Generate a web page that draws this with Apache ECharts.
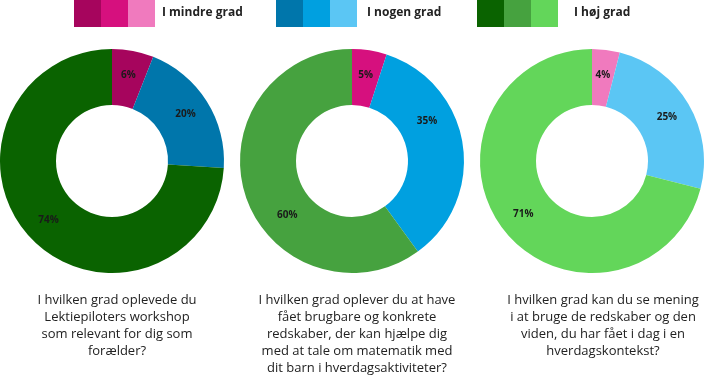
<!DOCTYPE html>
<html>
<head>
<meta charset="utf-8">
<script src="https://cdn.jsdelivr.net/npm/echarts@6/dist/echarts.min.js"></script>
<style>
  html, body { margin: 0; padding: 0; background: #fff; }
  #main { width: 705px; height: 375px; }
</style>
</head>
<body>
<div id="main"></div>
<script>
// svargrupper (legende)
var groups = ['I mindre grad', 'I nogen grad', 'I høj grad'];
var pinks = ['#a6055d', '#d6107e', '#f07abe'];
var blues = ['#0076ab', '#00a0e0', '#5bc6f4'];
var greens = ['#0a6300', '#46a23f', '#63d65a'];

// data pr. spørgsmål: [mindre, nogen, høj]
var values1 = [6, 20, 74];
var values2 = [5, 35, 60];
var values3 = [4, 25, 71];

var questions = [
    'I hvilken grad oplevede du\nLektiepiloters workshop\nsom relevant for dig som\nforælder?',
    'I hvilken grad oplever du at have\nfået brugbare og konkrete\nredskaber, der kan hjælpe dig\nmed at tale om matematik med\ndit barn i hverdagsaktiviteter?',
    'I hvilken grad kan du se mening\ni at bruge de redskaber og den\nviden, du har fået i dag i en\nhverdagskontekst?'
];

var myChart = echarts.init(document.getElementById('main'));

var allValues = [values1, values2, values3];
var centersX = [112, 352, 592];
var textX = [112, 352, 598];
var palette = [pinks, blues, greens];
// etiketterne i midterste diagram er flyttet lidt i originalen
var labelShift = [null, [null, [-11, -26], [18, 27]], null];

var series = [];
var titles = [];
allValues.forEach(function (vals, i) {
    series.push({
        type: 'pie',
        radius: [56, 112],
        center: [centersX[i], 161],
        startAngle: 90,
        clockwise: true,
        silent: true,
        label: {
            show: true,
            position: 'inside',
            formatter: '{c}%',
            color: '#1a1a1a',
            fontSize: 10,
            fontWeight: 'bold',
            fontFamily: 'Open Sans'
        },
        labelLine: {show: false},
        itemStyle: {borderWidth: 0},
        data: vals.map(function (v, j) {
            var item = {name: groups[j], value: v, itemStyle: {color: palette[j][i]}};
            if (labelShift[i] && labelShift[i][j]) {
                item.label = {offset: labelShift[i][j]};
            }
            return item;
        })
    });
    titles.push({
        text: questions[i],
        left: textX[i],
        top: 287,
        textAlign: 'center',
        textStyle: {
            fontFamily: 'Open Sans',
            fontSize: 13,
            fontWeight: 'normal',
            color: '#222',
            lineHeight: 17
        }
    });
});

// legende: tre farvefelter + tekst pr. gruppe
var legendX = [74, 276, 477];
var textGap = [7, 10, 16];
var graphic = [];
palette.forEach(function (cols, g) {
    cols.forEach(function (c, k) {
        graphic.push({
            type: 'rect',
            left: legendX[g] + k * 27,
            top: 0,
            shape: {width: 27, height: 27},
            style: {fill: c}
        });
    });
    graphic.push({
        type: 'text',
        left: legendX[g] + 81 + textGap[g],
        top: 7,
        style: {
            text: groups[g],
            fill: '#222',
            font: 'bold 12px "Open Sans"'
        }
    });
});

myChart.setOption({
    animation: false,
    title: titles,
    graphic: graphic,
    series: series
});
</script>
</body>
</html>
